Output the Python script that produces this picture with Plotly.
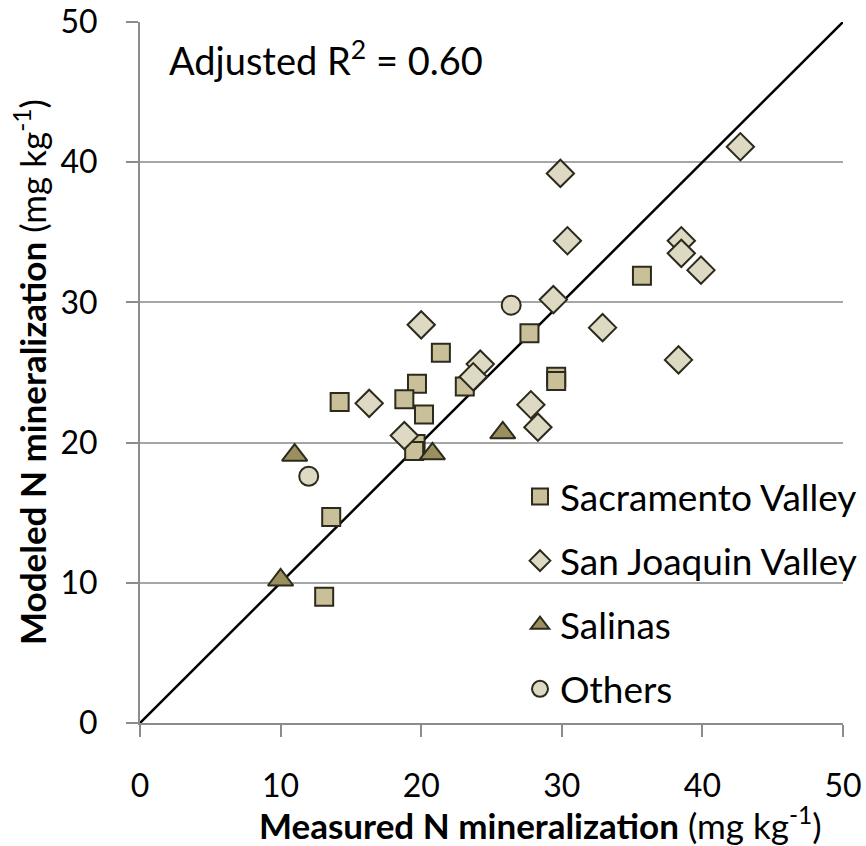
import plotly.graph_objects as go

# Data (measured, modeled), mg kg-1
sac_x = [14.2, 21.4, 27.7, 19.7, 18.8, 20.2, 23.1, 29.6, 29.6, 19.6, 19.5, 13.6, 13.1, 35.7]
sac_y = [22.9, 26.4, 27.8, 24.2, 23.1, 22.0, 24.0, 24.7, 24.4, 19.9, 19.4, 14.7, 9.0, 31.9]

sj_x = [20.0, 16.3, 24.2, 23.7, 18.8, 27.8, 28.3, 29.4, 29.9, 30.4, 42.7, 38.5, 38.5, 39.9, 32.9, 38.3]
sj_y = [28.4, 22.8, 25.6, 24.7, 20.5, 22.7, 21.1, 30.2, 39.2, 34.4, 41.1, 34.4, 33.5, 32.3, 28.2, 25.9]

sal_x = [11.0, 20.8, 25.8, 10.0]
sal_y = [19.1, 19.2, 20.7, 10.2]

oth_x = [12.0, 26.4]
oth_y = [17.6, 29.8]

line_x = [0, 50]
line_y = [0, 50]

tick_vals = [0, 10, 20, 30, 40, 50]

FONT = "Lato"
OUT = "#2b2a1c"
W, H = 866, 846
L, R, T, B = 140, 23, 22, 123
pw, ph = W - L - R, H - T - B


def px2paper(px, py):
    return (px - L) / pw, (H - B - py) / ph


fig = go.Figure()
fig.add_trace(go.Scatter(x=line_x, y=line_y, mode="lines",
                         line=dict(color="black", width=2.5),
                         showlegend=False, hoverinfo="skip"))
fig.add_trace(go.Scatter(x=sac_x, y=sac_y, mode="markers", name="Sacramento Valley",
                         legendgroup="a",
                         marker=dict(symbol="square", size=18, color="#c9c09a",
                                     line=dict(color=OUT, width=2))))
fig.add_trace(go.Scatter(x=sj_x, y=sj_y, mode="markers", name="San Joaquin Valley",
                         legendgroup="b",
                         marker=dict(symbol="diamond", size=21, color="#ddd9c2",
                                     line=dict(color=OUT, width=2))))
fig.add_trace(go.Scatter(x=sal_x, y=sal_y, mode="markers", name="Salinas",
                         legendgroup="c",
                         marker=dict(symbol="triangle-up", size=22, color="#9b8f5e",
                                     line=dict(color=OUT, width=2))))
fig.add_trace(go.Scatter(x=oth_x, y=oth_y, mode="markers", name="Others",
                         legendgroup="d",
                         marker=dict(symbol="circle", size=19, color="#ddd9c2",
                                     line=dict(color=OUT, width=2))))

lx, ly = px2paper(520, 466)
rx, ry = px2paper(167, 58)
ax, ay = px2paper(540, 823)
bx, by = px2paper(30, 372)

axis_common = dict(range=[0, 50], tickvals=tick_vals, automargin=False,
                   showline=True, linecolor="#8c8c8c", linewidth=2,
                   ticks="outside", ticklen=12, tickwidth=2, tickcolor="#8c8c8c",
                   ticklabelstandoff=22,
                   zeroline=False, tickfont=dict(size=32, family=FONT, color="black"),
                   fixedrange=True)

fig.update_layout(
    width=W, height=H,
    margin=dict(l=L, r=R, t=T, b=B, autoexpand=False),
    paper_bgcolor="white", plot_bgcolor="white",
    font=dict(family=FONT, size=32, color="black"),
    showlegend=True,
    legend=dict(x=lx, y=ly, xanchor="left", yanchor="top",
                bgcolor="rgba(0,0,0,0)", font=dict(size=37, family=FONT),
                tracegroupgap=13),
    xaxis=dict(showgrid=False, **axis_common),
    yaxis=dict(showgrid=True, gridcolor="#a6a6a6", gridwidth=2, **axis_common),
    annotations=[
        dict(text="Adjusted R<sup>2</sup> = 0.60", x=rx, y=ry, xref="paper", yref="paper",
             xanchor="left", yanchor="middle", showarrow=False,
             font=dict(size=38, family=FONT)),
        dict(text="<b>Measured N mineralization</b> (mg kg<sup>-1</sup>)",
             x=ax, y=ay, xref="paper", yref="paper", showarrow=False,
             xanchor="center", yanchor="middle",
             font=dict(size=35, family=FONT)),
        dict(text="<b>Modeled N mineralization</b> (mg kg<sup>-1</sup>)",
             x=bx, y=by, xref="paper", yref="paper", showarrow=False,
             textangle=-90, xanchor="center", yanchor="middle",
             font=dict(size=35, family=FONT)),
    ],
)

fig.write_html("out.html", config={"displayModeBar": False},
               post_script="document.body.style.margin='0';")
